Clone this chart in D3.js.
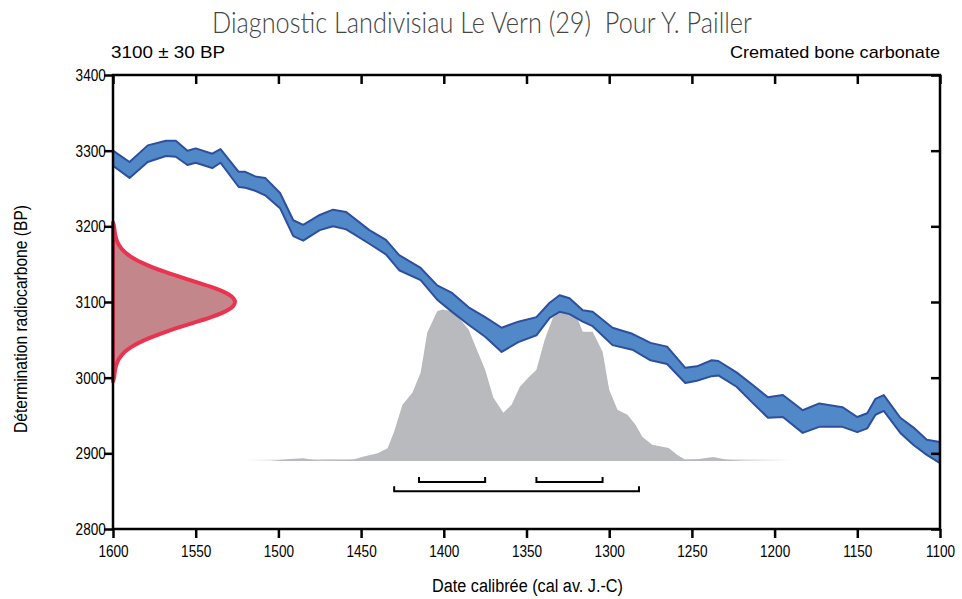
<!DOCTYPE html>
<html>
<head>
<meta charset="utf-8">
<script src="https://cdn.jsdelivr.net/npm/d3@7"></script>
<style>
  body { margin: 0; background: #fff; }
  svg text { font-family: "Liberation Sans", Arial, sans-serif; }
</style>
</head>
<body>
<script>
// calibration curve (IntCal band)
var curveYears = [1600, 1590, 1579, 1568, 1562, 1555, 1550, 1540, 1535, 1524, 1520, 1514, 1508, 1499,
    1491, 1485, 1475, 1467, 1459, 1445, 1435, 1427, 1414, 1404, 1395, 1385, 1375, 1365, 1355, 1344,
    1336, 1330, 1324, 1316, 1310, 1298, 1286, 1275, 1265, 1254, 1247, 1238, 1234, 1223, 1213, 1204,
    1195, 1183, 1173, 1159, 1150, 1144, 1139, 1134, 1124, 1116, 1108, 1100];
var curveUpper = [3300, 3285, 3307, 3313, 3313, 3300, 3303, 3296, 3302, 3272, 3272, 3266, 3264, 3244,
    3208, 3202, 3215, 3222, 3219, 3195, 3182, 3162, 3145, 3122, 3112, 3093, 3080, 3066, 3074, 3080,
    3099, 3109, 3105, 3089, 3087, 3066, 3058, 3046, 3041, 3013, 3015, 3023, 3022, 3007, 2990, 2974,
    2977, 2957, 2966, 2961, 2948, 2953, 2972, 2977, 2947, 2934, 2918, 2915];
var curveLower = [3280, 3264, 3285, 3293, 3292, 3281, 3284, 3277, 3284, 3252, 3251, 3247, 3241, 3224,
    3187, 3181, 3195, 3200, 3196, 3177, 3163, 3142, 3129, 3103, 3087, 3070, 3054, 3034, 3047, 3056,
    3079, 3087, 3084, 3074, 3068, 3043, 3037, 3023, 3018, 2993, 2996, 3002, 3003, 2988, 2966, 2947,
    2948, 2927, 2935, 2935, 2928, 2933, 2951, 2956, 2927, 2911, 2898, 2887];

// radiocarbon date 3100 +/- 30 BP, relative density
var dateBP = [3205, 3200, 3190, 3180, 3170, 3160, 3150, 3140, 3130, 3120, 3110, 3100,
    3090, 3080, 3070, 3060, 3050, 3040, 3030, 3020, 3010, 3000, 2995];
var dateDensity = [0, 0.01, 0.015, 0.03, 0.065, 0.135, 0.25, 0.41, 0.6, 0.8, 0.95, 1,
    0.95, 0.8, 0.6, 0.41, 0.25, 0.135, 0.065, 0.03, 0.015, 0.01, 0];

// calibrated probability (grey)
var calYears = [1505, 1495, 1485, 1475, 1455, 1449, 1440, 1434, 1430, 1425, 1419, 1414, 1410, 1404,
    1401, 1395, 1390, 1385, 1380, 1375, 1370, 1364, 1359, 1354, 1349, 1344, 1339, 1334, 1329, 1324,
    1319, 1316, 1310, 1304, 1300, 1295, 1289, 1284, 1280, 1274, 1264, 1259, 1254, 1247, 1237, 1229,
    1219, 1197];
var calProb = [0, 0.011, 0.018, 0, 0.007, 0.028, 0.051, 0.084, 0.194, 0.371, 0.45, 0.583, 0.848, 0.989,
    1, 0.989, 0.934, 0.868, 0.735, 0.603, 0.417, 0.318, 0.371, 0.49, 0.55, 0.603, 0.801, 0.947, 0.987, 0.967,
    0.934, 0.854, 0.854, 0.722, 0.47, 0.338, 0.305, 0.238, 0.159, 0.106, 0.086, 0.04, 0.007, 0.011, 0.026, 0.007,
    0, 0];

// ranges (68.2% and 95.4%)
var range68 = [[1415, 1375], [1344, 1304]];
var range95 = [[1430, 1282]];

var xTicks = [1600, 1550, 1500, 1450, 1400, 1350, 1300, 1250, 1200, 1150, 1100];
var yTicks = [2800, 2900, 3000, 3100, 3200, 3300, 3400];

var W = 962, H = 599;
var margin = {top: 75, right: 22, bottom: 70, left: 113};

var svg = d3.select('body').append('svg')
    .attr('width', W)
    .attr('height', H);

var x = d3.scaleLinear().domain([1600, 1100]).range([margin.left, W - margin.right]);
var y = d3.scaleLinear().domain([2800, 3400]).range([H - margin.bottom, margin.top]);

var defs = svg.append('defs');
defs.append('clipPath').attr('id', 'plotclip')
    .append('rect')
    .attr('x', x(1600)).attr('y', y(3400))
    .attr('width', x(1100) - x(1600)).attr('height', y(2800) - y(3400));

var fade = defs.append('linearGradient').attr('id', 'fade');
fade.append('stop').attr('offset', '0%').attr('stop-color', '#b9babd').attr('stop-opacity', 0);
fade.append('stop').attr('offset', '15%').attr('stop-color', '#b9babd').attr('stop-opacity', 1);
fade.append('stop').attr('offset', '85%').attr('stop-color', '#b9babd').attr('stop-opacity', 1);
fade.append('stop').attr('offset', '100%').attr('stop-color', '#b9babd').attr('stop-opacity', 0);

//grey calibrated distribution
var probY = d3.scaleLinear().domain([0, 1]).range([y(2890), y(3090)]);
var calData = calYears.map(function(d, i) { return {year: d, p: calProb[i]}; });

svg.append('rect')
    .attr('x', x(1520)).attr('y', probY(0) - 1.5)
    .attr('width', x(1190) - x(1520)).attr('height', 1.5)
    .attr('fill', 'url(#fade)');

svg.append('path')
    .datum(calData)
    .attr('fill', '#b9babd')
    .attr('d', d3.area()
        .x(function(d) { return x(d.year); })
        .y0(probY(0))
        .y1(function(d) { return probY(d.p); }));

//calibration curve band
var curveData = curveYears.map(function(d, i) { return {year: d, hi: curveUpper[i], lo: curveLower[i]}; });
var band = d3.area()
    .x(function(d) { return x(d.year); })
    .y0(function(d) { return y(d.lo); })
    .y1(function(d) { return y(d.hi); });

svg.append('path')
    .datum(curveData)
    .attr('clip-path', 'url(#plotclip)')
    .attr('fill', '#5088c8')
    .attr('stroke', '#2e4f9e')
    .attr('stroke-width', 2)
    .attr('stroke-linejoin', 'round')
    .attr('d', band);

//radiocarbon date distribution on the y axis
var densX = d3.scaleLinear().domain([0, 1]).range([x(1600), x(1525)]);
var dateData = dateBP.map(function(d, i) { return {bp: d, v: dateDensity[i]}; });

svg.append('path')
    .datum(dateData)
    .attr('fill', '#c2868b')
    .attr('stroke', '#ea3350')
    .attr('stroke-width', 4)
    .attr('stroke-linejoin', 'round')
    .attr('d', d3.area()
        .curve(d3.curveBasis)
        .y(function(d) { return y(d.bp); })
        .x0(densX(0))
        .x1(function(d) { return densX(d.v); }));

//range brackets
function bracket(r, bp) {
    var yb = y(bp), h = 5;
    svg.append('path')
        .attr('fill', 'none')
        .attr('stroke', '#000')
        .attr('stroke-width', 2)
        .attr('d', 'M' + x(r[0]) + ',' + (yb - h) + 'V' + yb + 'H' + x(r[1]) + 'V' + (yb - h));
}
range68.forEach(function(r) { bracket(r, 2862); });
range95.forEach(function(r) { bracket(r, 2850); });

//axes
function styleAxis(g) {
    g.selectAll('.domain').remove();
    g.selectAll('.tick line').attr('stroke', '#000').attr('stroke-width', 2.5);
    g.selectAll('.tick text')
        .attr('fill', '#000')
        .style('font-size', '17px')
        .attr('transform', 'scale(0.8,1)');
}

svg.append('g')
    .attr('transform', 'translate(0,' + y(2800) + ')')
    .call(d3.axisBottom(x).tickValues(xTicks).tickSize(9).tickPadding(7).tickFormat(d3.format('d')))
    .call(styleAxis);

svg.append('g')
    .attr('transform', 'translate(' + x(1600) + ',0)')
    .call(d3.axisLeft(y).tickValues(yTicks).tickSize(9).tickPadding(0).tickFormat(d3.format('d')))
    .call(styleAxis);

svg.append('g')
    .attr('transform', 'translate(0,' + y(3400) + ')')
    .call(d3.axisTop(x).tickValues(xTicks).tickSize(-9).tickFormat(''))
    .call(styleAxis);

svg.append('g')
    .attr('transform', 'translate(' + x(1100) + ',0)')
    .call(d3.axisRight(y).tickValues(yTicks).tickSize(-9).tickFormat(''))
    .call(styleAxis);

svg.append('rect')
    .attr('x', x(1600)).attr('y', y(3400))
    .attr('width', x(1100) - x(1600)).attr('height', y(2800) - y(3400))
    .attr('fill', 'none')
    .attr('stroke', '#000')
    .attr('stroke-width', 2.5);

//texts
svg.append('text')
    .attr('x', 212).attr('y', 33)
    .attr('textLength', 540)
    .attr('lengthAdjust', 'spacingAndGlyphs')
    .style('white-space', 'pre')
    .style('font-family', 'Lato, "Open Sans", sans-serif')
    .style('font-weight', 300)
    .style('font-size', '29px')
    .attr('fill', '#444')
    .text('Diagnostic Landivisiau Le Vern (29)  Pour Y. Pailler');

svg.append('text')
    .attr('x', 111).attr('y', 58)
    .attr('textLength', 114)
    .attr('lengthAdjust', 'spacingAndGlyphs')
    .style('font-size', '17px')
    .text('3100 \u00b1 30 BP');

svg.append('text')
    .attr('x', 730).attr('y', 58)
    .attr('textLength', 210)
    .attr('lengthAdjust', 'spacingAndGlyphs')
    .style('font-size', '17px')
    .text('Cremated bone carbonate');

svg.append('text')
    .attr('x', 432).attr('y', 592)
    .attr('textLength', 191)
    .attr('lengthAdjust', 'spacingAndGlyphs')
    .style('font-size', '18px')
    .text('Date calibrée (cal av. J.-C)');

svg.append('text')
    .attr('transform', 'translate(27,433) rotate(-90)')
    .attr('textLength', 228)
    .attr('lengthAdjust', 'spacingAndGlyphs')
    .style('font-size', '18px')
    .text('Détermination radiocarbone (BP)');
</script>
</body>
</html>
